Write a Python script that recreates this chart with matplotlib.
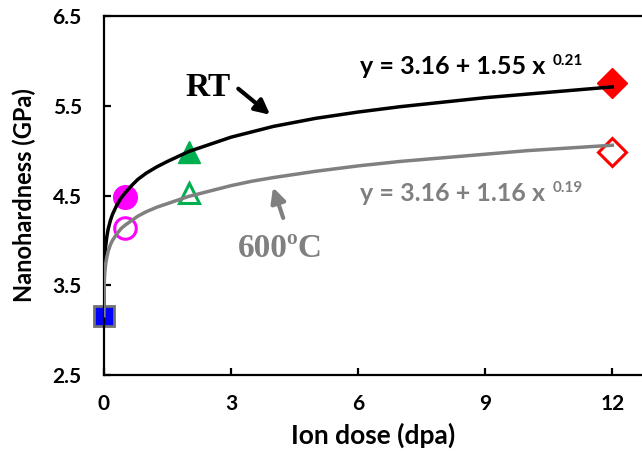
import matplotlib
matplotlib.use("Agg")
import matplotlib.pyplot as plt

# fitted curves (ion dose in dpa, hardness in GPa)
curve_dose = [0, 0.005, 0.01, 0.02, 0.04, 0.07, 0.1, 0.15, 0.2, 0.3, 0.4, 0.5,
              0.65, 0.8, 1.0, 1.25, 1.5, 2.0, 2.5, 3.0, 3.5, 4, 5, 6, 7, 8, 9,
              10, 11, 12]
rt_curve = [3.16, 3.62, 3.72, 3.82, 3.94, 4.05, 4.13, 4.22, 4.29, 4.39, 4.47,
            4.53, 4.61, 4.68, 4.75, 4.82, 4.88, 4.99, 5.07, 5.15, 5.21, 5.27,
            5.36, 5.43, 5.49, 5.54, 5.59, 5.63, 5.67, 5.71]
hot_curve = [3.16, 3.50, 3.57, 3.65, 3.74, 3.82, 3.88, 3.95, 4.00, 4.07, 4.13,
             4.17, 4.22, 4.27, 4.32, 4.37, 4.41, 4.49, 4.55, 4.61, 4.66, 4.70,
             4.77, 4.83, 4.88, 4.92, 4.96, 5.00, 5.03, 5.06]

# measured points
base_dose = [0]
base_hard = [3.16]
rt_dose = [0.5, 2, 12]
rt_hard = [4.48, 4.98, 5.75]
hot_dose = [0.5, 2, 12]
hot_hard = [4.14, 4.53, 4.98]
point_colors = ["#FF00FF", "#00B050", "#FF0000"]
point_markers = ["o", "^", "D"]

rt_eq = "y = 3.16 + 1.55 x"
rt_exp = "0.21"
hot_eq = "y = 3.16 + 1.16 x"
hot_exp = "0.19"

sans = "Lato"
serif = "Liberation Serif"
gray = "#808080"

fig = plt.figure(figsize=(6.42, 4.59), dpi=100)
ax = fig.add_axes([104 / 642, 1 - 375 / 459, 1 - 104 / 642, (375 - 16) / 459])

filled_size = {"o": 17, "^": 16, "D": 15}
open_size = {"o": 15.5, "^": 15, "D": 14}
for d, h, c, m in zip(rt_dose, rt_hard, point_colors, point_markers):
    ax.plot(d, h, marker=m, color=c, markersize=filled_size[m],
            linestyle="none", zorder=2)
for d, h, c, m in zip(hot_dose, hot_hard, point_colors, point_markers):
    ax.plot(d, h, marker=m, markerfacecolor="white", markeredgecolor=c,
            markeredgewidth=2.2, markersize=open_size[m],
            linestyle="none", zorder=2)
ax.plot(base_dose, base_hard, marker="s", color="#0000FF",
        markeredgecolor="#707070", markeredgewidth=2, markersize=15,
        linestyle="none", zorder=2, clip_on=False)

ax.plot(curve_dose, rt_curve, color="black", lw=2.5, zorder=3,
        solid_joinstyle="round")
ax.plot(curve_dose, hot_curve, color=gray, lw=2.5, zorder=3,
        solid_joinstyle="round")

ax.set_xlim(0, 12.7)
ax.set_ylim(2.5, 6.5)
ax.set_xticks([0, 3, 6, 9, 12])
ax.set_yticks([2.5, 3.5, 4.5, 5.5, 6.5])
ax.set_yticklabels(["2.5", "3.5", "4.5", "5.5", "6.5"])
ax.spines["right"].set_visible(False)
for s in ["left", "bottom", "top"]:
    ax.spines[s].set_linewidth(1.6)
ax.tick_params(direction="in", length=5, width=1.6, labelsize=15, pad=14)
ax.tick_params(axis="y", pad=16)
for lab in ax.get_xticklabels() + ax.get_yticklabels():
    lab.set_fontfamily(sans)
    lab.set_fontweight("bold")

ax.set_xlabel("Ion dose (dpa)", fontsize=19, fontweight="bold",
              fontfamily=sans, labelpad=6)
ax.set_ylabel("Nanohardness (GPa)", fontsize=17, fontweight="bold",
              fontfamily=sans, labelpad=12)

# fit equations with superscript exponents
t1 = ax.text(6.05, 5.85, rt_eq, fontsize=18, fontweight="bold",
             fontfamily=sans, color="black", va="baseline")
t2 = ax.text(6.05, 4.44, hot_eq, fontsize=18, fontweight="bold",
             fontfamily=sans, color=gray, va="baseline")
fig.canvas.draw()
inv = ax.transData.inverted()
for t, e, c in [(t1, rt_exp, "black"), (t2, hot_exp, gray)]:
    bb = t.get_window_extent()
    x_end = inv.transform((bb.x1 + 7, bb.y0))[0]
    _, y0 = t.get_position()
    ax.text(x_end, y0 + 0.1, e, fontsize=11, fontweight="bold",
            fontfamily=sans, color=c, va="baseline")

ax.text(2.46, 5.61, "RT", fontsize=24, fontweight="bold", fontfamily=serif,
        color="black", ha="center", va="baseline")
ax.text(4.16, 3.81, "600ºC", fontsize=24, fontweight="bold", fontfamily=serif,
        color=gray, ha="center", va="baseline")
ax.annotate("", xy=(3.92, 5.40), xytext=(3.17, 5.69),
            arrowprops=dict(arrowstyle="-|>", color="black", lw=3,
                            mutation_scale=22, shrinkA=0, shrinkB=0))
ax.annotate("", xy=(3.99, 4.59), xytext=(4.23, 4.25),
            arrowprops=dict(arrowstyle="-|>", color=gray, lw=3,
                            mutation_scale=22, shrinkA=0, shrinkB=0))

fig.savefig("out.png", dpi=100)
